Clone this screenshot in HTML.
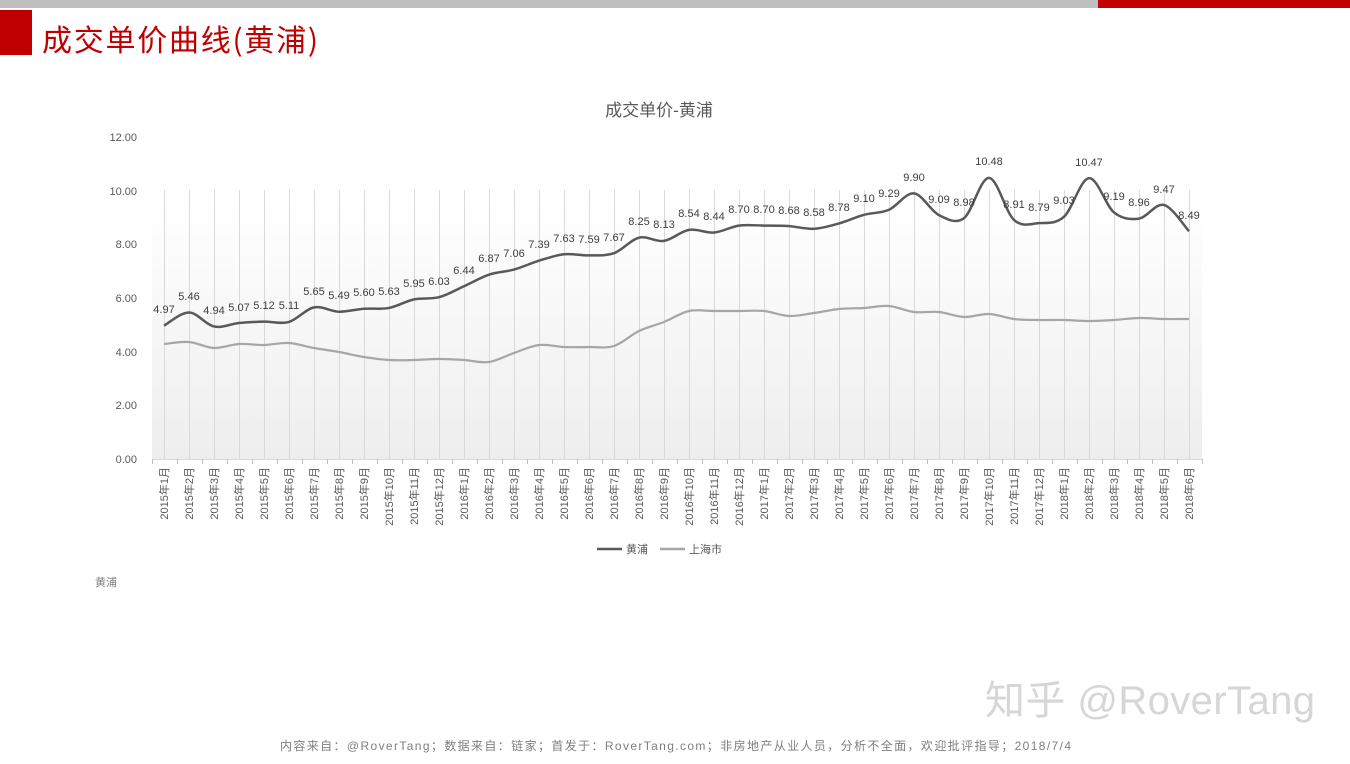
<!DOCTYPE html>
<html><head><meta charset="utf-8"><style>
body{margin:0;width:1350px;height:759px;overflow:hidden;background:#fff;font-family:"Liberation Sans","Noto Sans CJK SC",sans-serif;}
</style></head><body>
<svg width="1350" height="759" xmlns="http://www.w3.org/2000/svg" font-family="Liberation Sans, Noto Sans CJK SC, sans-serif">
<defs><linearGradient id="g" x1="0" y1="0" x2="0" y2="1"><stop offset="0" stop-color="#fff"/><stop offset="0.2" stop-color="#fff"/><stop offset="1" stop-color="#eeeeee"/></linearGradient></defs>
<rect x="0" y="0" width="1350" height="8" fill="#bfbfbf"/>
<rect x="1098" y="0" width="252" height="8" fill="#c00000"/>
<rect x="0" y="10" width="32" height="45" fill="#c00000"/>
<text x="42" y="51" font-size="30" fill="#c00000" font-family="Noto Sans CJK SC, sans-serif" textLength="276">成交单价曲线(黄浦)</text>
<text x="659" y="116" font-size="17" fill="#595959" text-anchor="middle">成交单价-黄浦</text>
<rect x="152" y="137" width="1050" height="322" fill="url(#g)"/>
<g id="grid" stroke="#d9d9d9" stroke-width="1"></g>
<line x1="152" y1="459.5" x2="1202" y2="459.5" stroke="#d9d9d9"/>
<g id="ticks" stroke="#bfbfbf"></g>
<g font-size="11" fill="#595959" text-anchor="end">
<text x="137" y="141">12.00</text><text x="137" y="195">10.00</text><text x="137" y="248">8.00</text><text x="137" y="302">6.00</text><text x="137" y="356">4.00</text><text x="137" y="409">2.00</text><text x="137" y="463">0.00</text>
</g>
<path id="sh" fill="none" stroke="#a6a6a6" stroke-width="2.2"/>
<path id="hp" fill="none" stroke="#595959" stroke-width="2.5"/>
<g font-size="11" fill="#404040" text-anchor="middle">
<text x="164" y="313">4.97</text><text x="189" y="300">5.46</text><text x="214" y="314">4.94</text><text x="239" y="311">5.07</text><text x="264" y="309">5.12</text><text x="289" y="309">5.11</text><text x="314" y="295">5.65</text><text x="339" y="299">5.49</text><text x="364" y="296">5.60</text><text x="389" y="295">5.63</text><text x="414" y="287">5.95</text><text x="439" y="285">6.03</text><text x="464" y="274">6.44</text><text x="489" y="262">6.87</text><text x="514" y="257">7.06</text><text x="539" y="248">7.39</text><text x="564" y="242">7.63</text><text x="589" y="243">7.59</text><text x="614" y="241">7.67</text><text x="639" y="225">8.25</text><text x="664" y="228">8.13</text><text x="689" y="217">8.54</text><text x="714" y="220">8.44</text><text x="739" y="213">8.70</text><text x="764" y="213">8.70</text><text x="789" y="214">8.68</text><text x="814" y="216">8.58</text><text x="839" y="211">8.78</text><text x="864" y="202">9.10</text><text x="889" y="197">9.29</text><text x="914" y="181">9.90</text><text x="939" y="203">9.09</text><text x="964" y="206">8.98</text><text x="989" y="165">10.48</text><text x="1014" y="208">8.91</text><text x="1039" y="211">8.79</text><text x="1064" y="204">9.03</text><text x="1089" y="166">10.47</text><text x="1114" y="200">9.19</text><text x="1139" y="206">8.96</text><text x="1164" y="193">9.47</text><text x="1189" y="219">8.49</text>
</g>
<g font-size="11" fill="#595959" text-anchor="end" font-family="Liberation Sans, Noto Sans CJK SC, sans-serif">
<text transform="translate(168,467) rotate(-90)">2015年1月</text><text transform="translate(193,467) rotate(-90)">2015年2月</text><text transform="translate(218,467) rotate(-90)">2015年3月</text><text transform="translate(243,467) rotate(-90)">2015年4月</text><text transform="translate(268,467) rotate(-90)">2015年5月</text><text transform="translate(293,467) rotate(-90)">2015年6月</text><text transform="translate(318,467) rotate(-90)">2015年7月</text><text transform="translate(343,467) rotate(-90)">2015年8月</text><text transform="translate(368,467) rotate(-90)">2015年9月</text><text transform="translate(393,467) rotate(-90)">2015年10月</text><text transform="translate(418,467) rotate(-90)">2015年11月</text><text transform="translate(443,467) rotate(-90)">2015年12月</text><text transform="translate(468,467) rotate(-90)">2016年1月</text><text transform="translate(493,467) rotate(-90)">2016年2月</text><text transform="translate(518,467) rotate(-90)">2016年3月</text><text transform="translate(543,467) rotate(-90)">2016年4月</text><text transform="translate(568,467) rotate(-90)">2016年5月</text><text transform="translate(593,467) rotate(-90)">2016年6月</text><text transform="translate(618,467) rotate(-90)">2016年7月</text><text transform="translate(643,467) rotate(-90)">2016年8月</text><text transform="translate(668,467) rotate(-90)">2016年9月</text><text transform="translate(693,467) rotate(-90)">2016年10月</text><text transform="translate(718,467) rotate(-90)">2016年11月</text><text transform="translate(743,467) rotate(-90)">2016年12月</text><text transform="translate(768,467) rotate(-90)">2017年1月</text><text transform="translate(793,467) rotate(-90)">2017年2月</text><text transform="translate(818,467) rotate(-90)">2017年3月</text><text transform="translate(843,467) rotate(-90)">2017年4月</text><text transform="translate(868,467) rotate(-90)">2017年5月</text><text transform="translate(893,467) rotate(-90)">2017年6月</text><text transform="translate(918,467) rotate(-90)">2017年7月</text><text transform="translate(943,467) rotate(-90)">2017年8月</text><text transform="translate(968,467) rotate(-90)">2017年9月</text><text transform="translate(993,467) rotate(-90)">2017年10月</text><text transform="translate(1018,467) rotate(-90)">2017年11月</text><text transform="translate(1043,467) rotate(-90)">2017年12月</text><text transform="translate(1068,467) rotate(-90)">2018年1月</text><text transform="translate(1093,467) rotate(-90)">2018年2月</text><text transform="translate(1118,467) rotate(-90)">2018年3月</text><text transform="translate(1143,467) rotate(-90)">2018年4月</text><text transform="translate(1168,467) rotate(-90)">2018年5月</text><text transform="translate(1193,467) rotate(-90)">2018年6月</text>
</g>
<line x1="597" y1="549" x2="622" y2="549" stroke="#595959" stroke-width="2.5"/>
<text x="626" y="553" font-size="11" fill="#595959">黄浦</text>
<line x1="660" y1="549" x2="685" y2="549" stroke="#a6a6a6" stroke-width="2.5"/>
<text x="689" y="553" font-size="11" fill="#595959">上海市</text>
<text x="95" y="586" font-size="11" fill="#7f7f7f">黄浦</text>
<text x="985" y="714" font-size="40" fill="#d6d6d6" textLength="330" font-family="Liberation Sans, Noto Sans CJK SC, sans-serif">知乎 @RoverTang</text>
<text x="280" y="750" font-size="12" fill="#7f7f7f" textLength="791">内容来自：@RoverTang；数据来自：链家；首发于：RoverTang.com；非房地产从业人员，分析不全面，欢迎批评指导；2018/7/4</text>
</svg>
<script>
var hp=[4.97,5.46,4.94,5.07,5.12,5.11,5.65,5.49,5.60,5.63,5.95,6.03,6.44,6.87,7.06,7.39,7.63,7.59,7.67,8.25,8.13,8.54,8.44,8.70,8.70,8.68,8.58,8.78,9.10,9.29,9.90,9.09,8.98,10.48,8.91,8.79,9.03,10.47,9.19,8.96,9.47,8.49];
var shy=[344,342,348,344,345,343,348,352,357,360,360,359,360,362,353,345,347,347,346,331,322,311,311,311,311,316,313,309,308,306,312,312,317,314,319,320,320,321,320,318,319,319];
function X(i){return 164+25*i;}
function path(ys){var p=ys.map(function(y,i){return [X(i),y];});var d="M"+p[0][0]+","+p[0][1];
for(var i=0;i<p.length-1;i++){var p0=p[i-1]||p[i],p1=p[i],p2=p[i+1],p3=p[i+2]||p2;var t=1/6;
d+=" C"+(p1[0]+(p2[0]-p0[0])*t)+","+(p1[1]+(p2[1]-p0[1])*t)+" "+(p2[0]-(p3[0]-p1[0])*t)+","+(p2[1]-(p3[1]-p1[1])*t)+" "+p2[0]+","+p2[1];}return d;}
document.getElementById("hp").setAttribute("d",path(hp.map(function(v){return 459-v*26.83;})));
document.getElementById("sh").setAttribute("d",path(shy));
var g=document.getElementById("grid"),t=document.getElementById("ticks"),ns="http://www.w3.org/2000/svg";
for(var i=0;i<42;i++){var l=document.createElementNS(ns,"line");l.setAttribute("x1",X(i)+.5);l.setAttribute("x2",X(i)+.5);l.setAttribute("y1",190);l.setAttribute("y2",459);g.appendChild(l);}
for(var k=0;k<=42;k++){var l=document.createElementNS(ns,"line");var x=152+25*k+.5;l.setAttribute("x1",x);l.setAttribute("x2",x);l.setAttribute("y1",459);l.setAttribute("y2",464);t.appendChild(l);}
</script>
</body></html>
